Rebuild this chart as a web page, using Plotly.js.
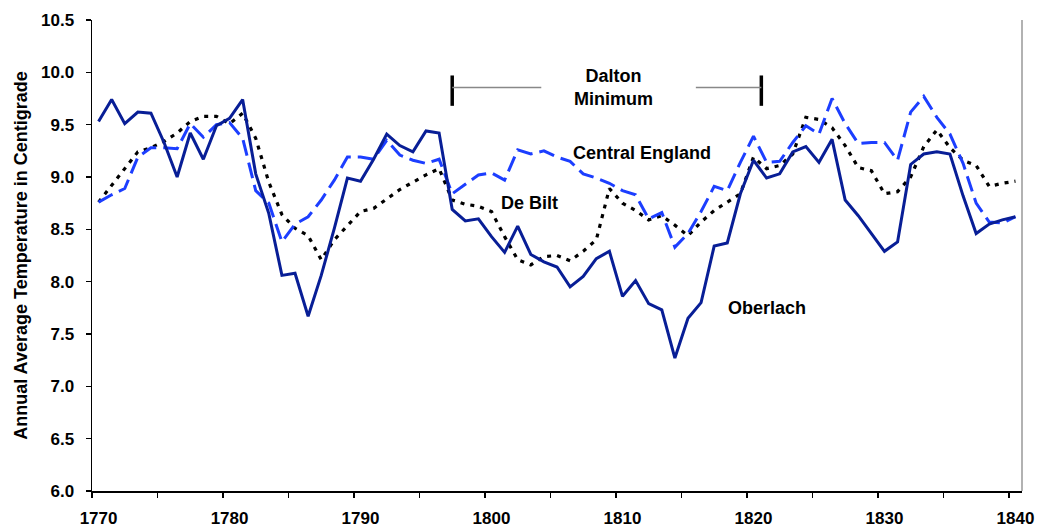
<!DOCTYPE html>
<html>
<head>
<meta charset="utf-8">
<script src="https://cdn.plot.ly/plotly-3.0.1.min.js"></script>
<style>
  html, body { margin: 0; padding: 0; background: #fff; }
  #myDiv { width: 1037px; height: 527px; }
</style>
</head>
<body>
<div id="myDiv"></div>
<script>
var years = [
  1770, 1771, 1772, 1773, 1774, 1775, 1776, 1777, 1778, 1779,
  1780, 1781, 1782, 1783, 1784, 1785, 1786, 1787, 1788, 1789,
  1790, 1791, 1792, 1793, 1794, 1795, 1796, 1797, 1798, 1799,
  1800, 1801, 1802, 1803, 1804, 1805, 1806, 1807, 1808, 1809,
  1810, 1811, 1812, 1813, 1814, 1815, 1816, 1817, 1818, 1819,
  1820, 1821, 1822, 1823, 1824, 1825, 1826, 1827, 1828, 1829,
  1830, 1831, 1832, 1833, 1834, 1835, 1836, 1837, 1838, 1839,
  1840
];

var oberlach = [
  9.53, 9.74, 9.51, 9.62, 9.61, 9.33, 9.00, 9.42, 9.17, 9.49,
  9.56, 9.74, 9.03, 8.65, 8.06, 8.08, 7.67, 8.06, 8.51, 8.99,
  8.96, 9.17, 9.41, 9.30, 9.24, 9.44, 9.42, 8.69, 8.58, 8.60,
  8.43, 8.28, 8.53, 8.26, 8.19, 8.14, 7.95, 8.05, 8.22, 8.29,
  7.86, 8.01, 7.79, 7.73, 7.27, 7.65, 7.80, 8.34, 8.37, 8.84,
  9.16, 8.99, 9.03, 9.24, 9.29, 9.14, 9.36, 8.78, 8.63, 8.46,
  8.29, 8.38, 9.12, 9.22, 9.24, 9.22, 8.82, 8.46, 8.55, 8.59,
  8.62
];

var centralEngland = [
  8.76, 8.83, 8.89, 9.19, 9.28, 9.28, 9.27, 9.51, 9.38, 9.50,
  9.52, 9.37, 8.87, 8.75, 8.38, 8.55, 8.62, 8.78, 8.97, 9.19,
  9.19, 9.17, 9.35, 9.21, 9.16, 9.13, 9.17, 8.84, 8.93, 9.02,
  9.04, 8.97, 9.26, 9.22, 9.25, 9.19, 9.15, 9.03, 8.99, 8.94,
  8.87, 8.83, 8.60, 8.66, 8.33, 8.46, 8.67, 8.91, 8.87, 9.14,
  9.39, 9.14, 9.15, 9.33, 9.49, 9.41, 9.75, 9.51, 9.32, 9.33,
  9.33, 9.16, 9.62, 9.77, 9.57, 9.41, 9.13, 8.75, 8.57, 8.56,
  8.62
];

var deBilt = [
  8.76, 8.92, 9.07, 9.24, 9.28, 9.34, 9.42, 9.53, 9.58, 9.58,
  9.51, 9.61, 9.37, 8.95, 8.64, 8.51, 8.44, 8.21, 8.40, 8.54,
  8.67, 8.70, 8.79, 8.88, 8.95, 9.02, 9.08, 8.78, 8.74, 8.72,
  8.67, 8.43, 8.21, 8.16, 8.24, 8.25, 8.20, 8.29, 8.40, 8.89,
  8.75, 8.68, 8.59, 8.63, 8.54, 8.44, 8.57, 8.68, 8.76, 8.84,
  9.19, 9.08, 9.11, 9.22, 9.57, 9.55, 9.47, 9.30, 9.09, 9.06,
  8.84, 8.86, 9.00, 9.29, 9.45, 9.28, 9.16, 9.11, 8.91, 8.94,
  8.96
];

var labelYears = [1770, 1780, 1790, 1800, 1810, 1820, 1830, 1840];

// tick marks sit on the boundaries between years (Excel category style)
var boundaryTicks = [];
for (var b = 1770; b <= 1840; b += 5) boundaryTicks.push(b - 0.5);

var font = 'Liberation Sans, Arial, sans-serif';

var trace1 = {
  x: years, y: deBilt, name: 'De Bilt', mode: 'lines',
  line: { color: '#000000', width: 3.2, dash: '4px,6px' }
};
var trace2 = {
  x: years, y: centralEngland, name: 'Central England', mode: 'lines',
  line: { color: 'rgb(28, 62, 255)', width: 3, dash: '16px,7px' }
};
var trace3 = {
  x: years, y: oberlach, name: 'Oberlach', mode: 'lines',
  line: { color: 'rgb(8, 30, 150)', width: 3 }
};

var labelFont = { family: font, size: 18, color: '#000', weight: 'bold' };

var layout = {
  width: 1037,
  height: 527,
  margin: { l: 92, r: 15, t: 20, b: 36 },
  paper_bgcolor: '#fff',
  plot_bgcolor: '#fff',
  showlegend: false,
  xaxis: {
    range: [1769.5, 1840.5],
    tickmode: 'array',
    tickvals: labelYears,
    ticks: '',
    showgrid: false,
    zeroline: false,
    showline: true,
    linecolor: '#000',
    linewidth: 1.5,
    ticklabelstandoff: 11,
    tickfont: { family: font, size: 17, color: '#000', weight: 'bold' },
    minor: {
      tickmode: 'array',
      tickvals: boundaryTicks,
      ticks: 'outside',
      ticklen: 5,
      tickwidth: 1.5,
      tickcolor: '#000',
      showgrid: false
    }
  },
  yaxis: {
    title: {
      text: 'Annual Average Temperature in Centigrade',
      font: { family: font, size: 18, color: '#000', weight: 'bold' },
      standoff: 8
    },
    range: [6.0, 10.5],
    dtick: 0.5,
    tick0: 6,
    tickformat: '.1f',
    ticks: 'outside',
    ticklen: 5,
    tickwidth: 1.5,
    tickcolor: '#000',
    showgrid: false,
    zeroline: false,
    showline: true,
    linecolor: '#000',
    linewidth: 1.5,
    ticklabelstandoff: 8,
    tickfont: { family: font, size: 17, color: '#000', weight: 'bold' }
  },
  shapes: [
    // gray right border
    { type: 'line', xref: 'paper', yref: 'paper', x0: 1, x1: 1, y0: 0, y1: 1,
      line: { color: '#999', width: 1.5 } },
    // Dalton Minimum bracket
    { type: 'line', xref: 'x', yref: 'y', x0: 1797, x1: 1797, y0: 9.68, y1: 9.97,
      line: { color: '#000', width: 3.5 } },
    { type: 'line', xref: 'x', yref: 'y', x0: 1820.6, x1: 1820.6, y0: 9.68, y1: 9.97,
      line: { color: '#000', width: 3.5 } },
    { type: 'line', xref: 'x', yref: 'y', x0: 1797, x1: 1803.8, y0: 9.855, y1: 9.855,
      line: { color: '#888', width: 1.5 } },
    { type: 'line', xref: 'x', yref: 'y', x0: 1815.6, x1: 1820.6, y0: 9.855, y1: 9.855,
      line: { color: '#888', width: 1.5 } }
  ],
  annotations: [
    { x: 1809.3, y: 9.855, xref: 'x', yref: 'y', text: 'Dalton<br>Minimum',
      showarrow: false, font: labelFont, align: 'center' },
    { x: 1811.5, y: 9.23, xref: 'x', yref: 'y', text: 'Central England',
      showarrow: false, font: labelFont },
    { x: 1802.9, y: 8.75, xref: 'x', yref: 'y', text: 'De Bilt',
      showarrow: false, font: labelFont },
    { x: 1821.0, y: 7.75, xref: 'x', yref: 'y', text: 'Oberlach',
      showarrow: false, font: labelFont }
  ]
};

Plotly.newPlot('myDiv', [trace1, trace2, trace3], layout, { displayModeBar: false, staticPlot: true });
</script>
</body>
</html>
